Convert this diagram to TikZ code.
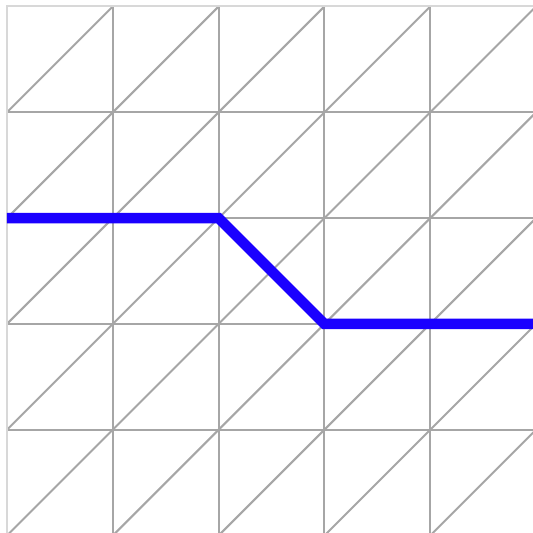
\documentclass[tikz,border=0pt]{standalone}
\usepackage{xcolor}
\usepackage{tikz}
\definecolor{gridline}{HTML}{A6A6A6}
\definecolor{gridedge}{HTML}{D8D8D8}
\definecolor{pathblue}{HTML}{1A00FF}

\begin{document}
\begin{tikzpicture}[x=1cm,y=1cm]
        \useasboundingbox (-0.066,0.024) rectangle (4.962,5.061);
        \fill[white] (-0.066,0.024) rectangle (4.962,5.061);
        % cells with diagonals
        \foreach \i in {1,2,3,4} {
            \draw[gridline, line width=0.55pt] (\i,0) -- (\i,5);
            \draw[gridline, line width=0.55pt] (0,\i) -- (5,\i);
        }
        \foreach \i in {0,...,4} {
            \foreach \j in {0,...,4} {
                \draw[gridline, line width=0.55pt] (\i,\j) -- (\i+1,\j+1);
            }
        }
        \draw[gridedge, line width=0.55pt] (0,0) -- (0,5) -- (5,5);
        % the path
        \coordinate (p0) at (0,3);
        \coordinate (p1) at (2,3);
        \coordinate (p2) at (3,2);
        \coordinate (p3) at (5,2);
        \draw[pathblue, line width=2.8pt] (p0) -- (p1) -- (p2) -- (p3);
    \end{tikzpicture}
\end{document}
